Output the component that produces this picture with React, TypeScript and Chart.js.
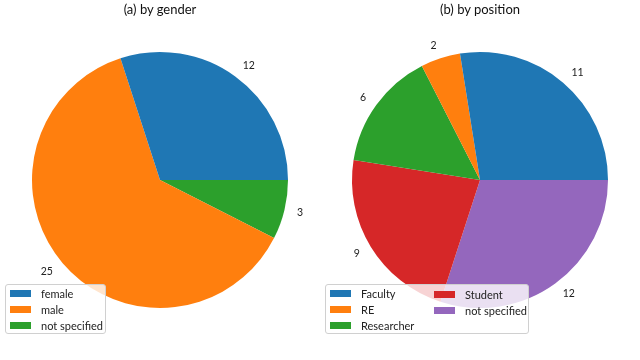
import React, { useEffect, useRef } from "react";
import { Chart, registerables } from "chart.js";

Chart.register(...registerables);

const genderLabels = ["female", "male", "not specified"];
const genderValues = [12, 25, 3];
const positionLabels = ["Faculty", "RE", "Researcher", "Student", "not specified"];
const positionValues = [11, 2, 6, 9, 12];
const palette = ["#1f77b4", "#ff7f0e", "#2ca02c", "#d62728", "#9467bd"];

const FONT = "Lato, 'Open Sans', sans-serif";

const valueLabelPlugin = {
  id: "valueLabels",
  afterDatasetsDraw(chart: any) {
    const ctx = chart.ctx;
    const meta = chart.getDatasetMeta(0);
    const data = chart.data.datasets[0].data;
    ctx.save();
    ctx.font = `10.5px ${FONT}`;
    ctx.fillStyle = "#222";
    ctx.textBaseline = "middle";
    meta.data.forEach((arc: any, i: number) => {
      const mid = (arc.startAngle + arc.endAngle) / 2;
      const r = arc.outerRadius * 1.1;
      const x = arc.x + r * Math.cos(mid);
      const y = arc.y + r * Math.sin(mid);
      ctx.textAlign = Math.cos(mid) >= 0 ? "left" : "right";
      ctx.fillText(String(data[i]), x, y);
    });
    ctx.restore();
  },
};

function PieChart({ labels, values, title, legendCols, legendWidth, legendLeft }: any) {
  const ref = useRef<HTMLCanvasElement | null>(null);
  useEffect(() => {
    if (!ref.current) return;
    // matplotlib draws counter-clockwise from 3 o'clock; Chart.js draws clockwise,
    // so reverse the order and start at 3 o'clock.
    const revLabels = [...labels].reverse();
    const revValues = [...values].reverse();
    const revColors = labels.map((_: any, i: number) => palette[i]).reverse();
    const chart = new Chart(ref.current, {
      type: "pie",
      data: {
        labels: revLabels,
        datasets: [
          {
            data: revValues,
            backgroundColor: revColors,
            borderWidth: 0,
          },
        ],
      },
      options: {
        responsive: false,
        animation: false,
        rotation: 90,
        layout: { padding: { left: 32, right: 32, top: 52, bottom: 52 } },
        plugins: {
          legend: { display: false },
          tooltip: { enabled: false },
          title: { display: false },
        },
      },
      plugins: [valueLabelPlugin],
    });
    return () => chart.destroy();
  }, []);

  const rows = Math.ceil(labels.length / legendCols);
  const cols: any[] = [];
  for (let c = 0; c < legendCols; c++) {
    cols.push(labels.slice(c * rows, (c + 1) * rows).map((l: string, j: number) => ({ l, i: c * rows + j })));
  }

  return (
    <div style={{ position: "relative", width: 320, height: 360 }}>
      <canvas ref={ref} width={320} height={360} style={{ position: "absolute", left: 0, top: 0 }} />
      <div
        style={{
          position: "absolute",
          left: 0,
          top: 1,
          width: 320,
          textAlign: "center",
          font: `13px ${FONT}`,
          color: "#111",
        }}
      >
        {title}
      </div>
      <div
        style={{
          position: "absolute",
          left: legendLeft,
          top: 284,
          width: legendWidth,
          height: 50,
          boxSizing: "border-box",
          background: "rgba(255,255,255,0.8)",
          border: "1px solid #d0d0d0",
          borderRadius: 3,
          display: "flex",
          padding: "1px 0 0 4px",
          font: `11px ${FONT}`,
          color: "#222",
          whiteSpace: "nowrap",
        }}
      >
        {cols.map((col, ci) => (
          <div key={ci} style={{ display: "flex", flexDirection: "column", width: ci < cols.length - 1 ? 104 : "auto" }}>
            {col.map((it: any) => (
              <div key={it.l} style={{ display: "flex", alignItems: "center", height: 16 }}>
                <span
                  style={{
                    display: "inline-block",
                    width: 21,
                    height: 7,
                    background: palette[it.i],
                    marginRight: 10,
                    flexShrink: 0,
                  }}
                />
                <span>{it.l}</span>
              </div>
            ))}
          </div>
        ))}
      </div>
    </div>
  );
}

export default function App() {
  return (
    <div style={{ position: "absolute", left: 0, top: 0, width: 640, height: 360, display: "flex", background: "#fff" }}>
      <PieChart labels={genderLabels} values={genderValues} title="(a) by gender" legendCols={1} legendWidth={101} legendLeft={5} />
      <PieChart labels={positionLabels} values={positionValues} title="(b) by position" legendCols={2} legendWidth={204} legendLeft={5} />
    </div>
  );
}
